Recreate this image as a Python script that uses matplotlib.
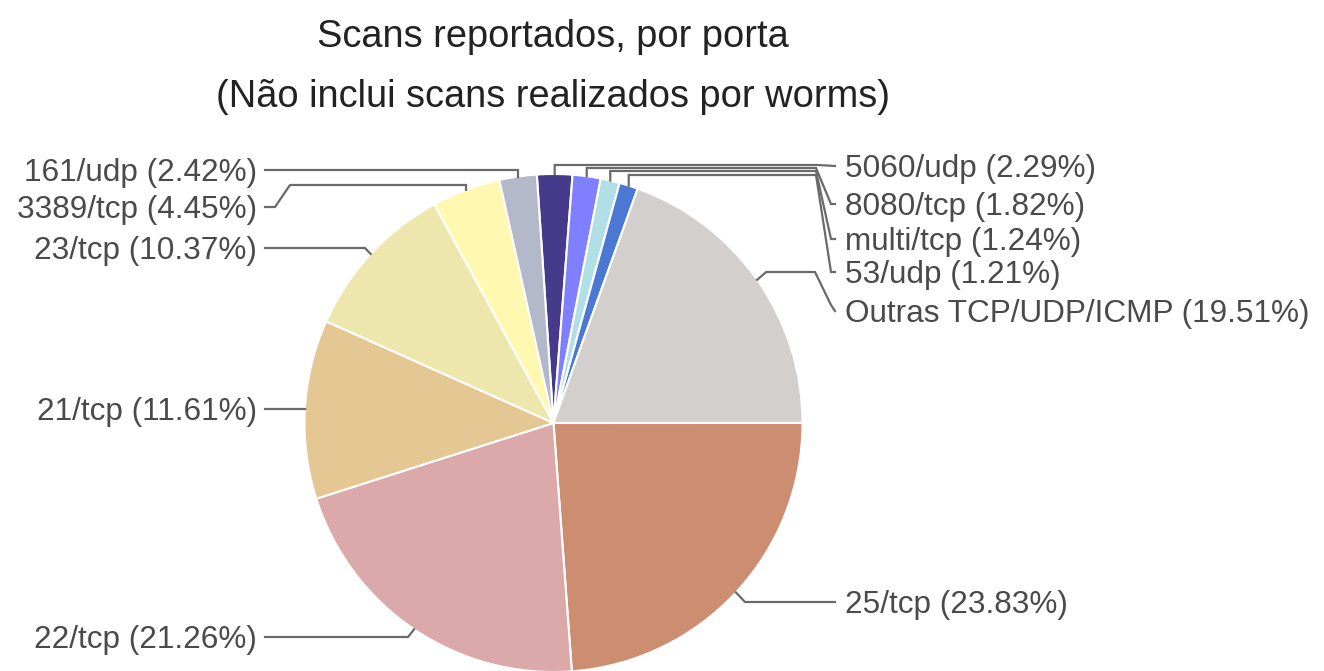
import numpy as np
import matplotlib
matplotlib.use("Agg")
import matplotlib.pyplot as plt

# ---------------- Dados ----------------
portas = ["5060/udp", "8080/tcp", "multi/tcp", "53/udp", "Outras TCP/UDP/ICMP",
          "25/tcp", "22/tcp", "21/tcp", "23/tcp", "3389/tcp", "161/udp"]
percentuais = [2.29, 1.82, 1.24, 1.21, 19.51, 23.83, 21.26, 11.61, 10.37, 4.45, 2.42]
cores = ["#463b8a", "#7f80ff", "#b0e0e6", "#4a78d2", "#d3cfcc",
         "#cd8d71", "#dba9aa", "#e4c793", "#eee7ad", "#fff8b0", "#b3b9c8"]

# ---------------- Layout (pixels) ----------------
W, H = 1324, 671
CX, CY, R = 553.5, 423, 249
START = 93.85  # graus

# lado, y_rotulo, y_horizontal, x_dobra
layout = {
    "5060/udp": ("r", 166, 165, 818),
    "8080/tcp": ("r", 204, 168, 816),
    "multi/tcp": ("r", 239, 171, 816),
    "53/udp": ("r", 272, 175, 816),
    "Outras TCP/UDP/ICMP": ("r", 311, 272, 815),
    "25/tcp": ("r", 602, 602, 745),
    "22/tcp": ("l", 637, 637, 408),
    "21/tcp": ("l", 409, 409, 300),
    "23/tcp": ("l", 248, 248, 365),
    "3389/tcp": ("l", 207, 185, 290),
    "161/udp": ("l", 170, 170, 519),
}


def Y(y):
    return H - y


fig = plt.figure(figsize=(W / 100, H / 100), dpi=100)
ax = fig.add_axes([0, 0, 1, 1])

wedges, _ = ax.pie(percentuais, colors=cores, startangle=START, counterclock=False,
                   center=(CX, Y(CY)), radius=R,
                   wedgeprops=dict(edgecolor="white", linewidth=1.5))
ax.set_xlim(0, W)
ax.set_ylim(0, H)
ax.set_aspect("equal")
ax.axis("off")

cor_linha = "#6a6a6a"
cor_texto = "#4a4a4a"
fonte = ["Liberation Sans", "DejaVu Sans"]

for w, nome, pct in zip(wedges, portas, percentuais):
    lado, ylab, yh, xk = layout[nome]
    ang = np.deg2rad((w.theta1 + w.theta2) / 2)
    ax_x = CX + R * np.cos(ang)
    ax_y = CY - R * np.sin(ang)
    if lado == "r":
        xend = 835
        if nome == "Outras TCP/UDP/ICMP":
            pts = [(ax_x, ax_y), (ax_x + 9, yh), (xk, yh), (xend - 4, ylab - 6), (xend, ylab)]
        elif nome == "5060/udp":
            pts = [(ax_x, ax_y), (ax_x, yh), (xk, yh), (xend, ylab)]
        elif yh < ax_y - 3:
            pts = [(ax_x, ax_y), (ax_x, yh), (xk, yh), (xend - 4, ylab), (xend, ylab)]
        else:
            pts = [(ax_x, ax_y), (xk, ylab), (xend, ylab)]
        tx, ha = 845, "left"
    else:
        xend = 265
        if nome in ("161/udp", "21/tcp"):
            pts = [(ax_x, ax_y), (ax_x, yh), (xend, ylab)]
        elif nome == "3389/tcp":
            pts = [(ax_x, ax_y), (ax_x, yh), (xk, yh), (xend + 10, ylab), (xend, ylab)]
        else:
            pts = [(ax_x, ax_y), (xk, ylab), (xend, ylab)]
        tx, ha = 257, "right"
    xs, ys = zip(*pts)
    ax.plot(xs, [Y(v) for v in ys], color=cor_linha, lw=1.6, solid_joinstyle="miter")
    ax.text(tx, Y(ylab + 11), f"{nome} ({pct:.2f}%)", ha=ha, va="baseline",
            fontsize=22.7, color=cor_texto, family=fonte)

ax.text(553, Y(47), "Scans reportados, por porta", ha="center", va="baseline",
        fontsize=27.4, color="#222222", family=fonte)
ax.text(553, Y(107), "(Não inclui scans realizados por worms)", ha="center", va="baseline",
        fontsize=27.4, color="#222222", family=fonte)

fig.savefig("out.png", dpi=100)
